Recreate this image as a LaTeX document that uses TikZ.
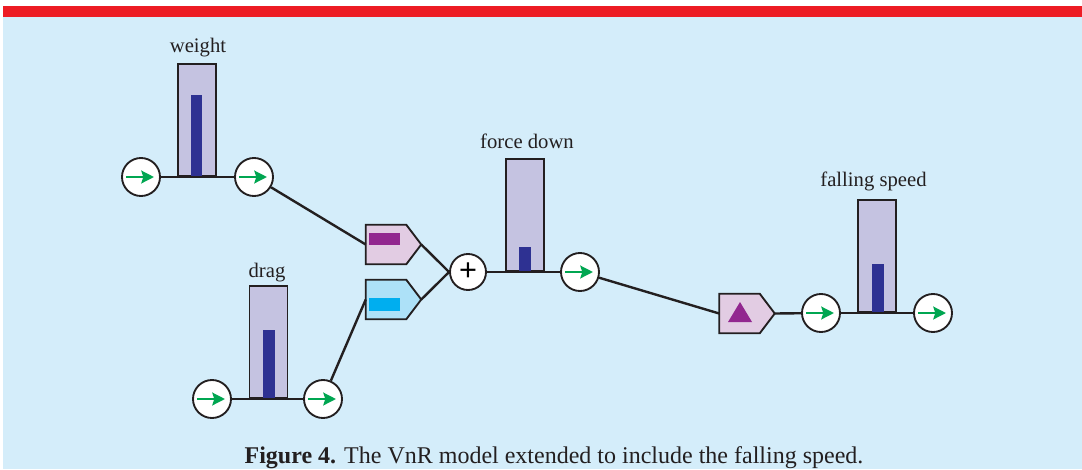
\documentclass[tikz,border=0pt]{standalone}
\usepackage{fontspec}
\setmainfont{Liberation Serif}
\newfontfamily\plusfont{Liberation Sans}
\usetikzlibrary{calc,arrows.meta}
\definecolor{bg}{HTML}{D4EDFA}
\definecolor{topred}{HTML}{ED1C24}
\definecolor{ln}{HTML}{231F20}
\definecolor{tankfill}{HTML}{C5C3E1}
\definecolor{tankbar}{HTML}{2E3192}
\definecolor{grn}{HTML}{00A651}
\definecolor{pconv}{HTML}{E2CCE3}
\definecolor{pbar}{HTML}{92278F}
\definecolor{bconv}{HTML}{ADE1F8}
\definecolor{bbar}{HTML}{00AEEF}
\begin{document}
\begin{tikzpicture}[x=0.75pt,y=-0.75pt,
  garrow/.style={draw=grn, line width=2.2pt, -{Stealth[length=9.5pt,width=9.5pt,inset=1.5pt]}},
  flow/.style={circle, draw=ln, line width=1.4pt, fill=white, minimum size=28.5pt, inner sep=0pt,
    path picture={\draw[garrow] ($(path picture bounding box.center)+(-15,0)$) -- ++(28,0);}},
  tank/.style={rectangle, draw=ln, line width=1.4pt, fill=tankfill, minimum width=28.5pt, minimum height=84pt, inner sep=0pt, anchor=south},
  conv/.style={rectangle, draw=none, minimum width=41.25pt, minimum height=29.25pt, inner sep=0pt},
  convshape/.style={draw=ln, line width=1.4pt},
  sumnode/.style={circle, draw=ln, line width=1.4pt, fill=white, minimum size=27pt, inner sep=0pt, font=\plusfont\fontsize{23}{23}\selectfont},
  conn/.style={draw=ln, line width=1.8pt},
  lbl/.style={anchor=base, font=\fontsize{15.5}{18}\selectfont, text=ln}
]
\useasboundingbox (0,0) rectangle (1082,469);
\fill[white] (0,0) rectangle (1082,469);
\fill[bg] (3,17) rectangle (1082,469);
\fill[topred] (3,6) rectangle (1082,17);

% tanks
\node[tank] (tw) at (197,177) {};
\fill[tankbar] (191,95) rectangle (202,177);
\node[tank] (td) at (268.5,399) {};
\fill[tankbar] (263,330) rectangle (275,399);
\node[tank] (tf) at (525,272) {};
\fill[tankbar] (519,247) rectangle (531,272);
\node[tank] (ts) at (877,313) {};
\fill[tankbar] (871.5,264) rectangle (883.5,313);

% labels
\node[lbl] (lw) at (198,52) {weight};
\node[lbl] (ld) at (267,277) {drag};
\node[lbl] (lf) at (527,148) {force down};
\node[lbl] (ls) at (873.5,186) {falling speed};

% flow circles
\node[flow] (w1) at (141,177) {};
\node[flow] (w2) at (254,177) {};
\node[flow] (d1) at (212,399) {};
\node[flow] (d2) at (323,399) {};
\node[flow] (f2) at (580,272) {};
\node[flow] (s1) at (821,313) {};
\node[flow] (s2) at (933,313) {};
\node[sumnode] (plus) at (468,272) {+};

% converters
\node[conv] (c1) at (393.5,244.5) {};
\node[conv] (c2) at (393.5,299.5) {};
\node[conv] (c3) at (747,313.5) {};
\draw[convshape, fill=pconv] (c1.north west) -- ($(c1.north east)+(-15,0)$) -- (c1.east) -- ($(c1.south east)+(-15,0)$) -- (c1.south west) -- cycle;
\fill[pbar] (369,233) rectangle (400,245);
\draw[convshape, fill=bconv] (c2.north west) -- ($(c2.north east)+(-15,0)$) -- (c2.east) -- ($(c2.south east)+(-15,0)$) -- (c2.south west) -- cycle;
\fill[bbar] (369,298) rectangle (400,311);
\draw[convshape, fill=pconv] (c3.north west) -- ($(c3.north east)+(-15,0)$) -- (c3.east) -- ($(c3.south east)+(-15,0)$) -- (c3.south west) -- cycle;
\fill[pbar] (728,322) -- (752,322) -- (740,302) -- cycle;

% connectors
\draw[conn] (w1) -- (w2);
\draw[conn] (d1) -- (d2);
\draw[conn] (w2) -- (c1.west);
\draw[conn] (d2) -- (c2.west);
\draw[conn] (c1.east) -- (plus.west);
\draw[conn] (c2.east) -- (plus.west);
\draw[conn] (plus) -- (f2);
\draw[conn] (f2) -- (c3.west);
\draw[conn] (c3.east) -- (s1);
\draw[conn] (s1) -- (s2);

% caption
\node[anchor=base, font=\fontsize{18}{21}\selectfont, text=ln] (cap) at (554,463) {\textbf{Figure 4.} The VnR model extended to include the falling speed.};
\end{tikzpicture}
\end{document}
